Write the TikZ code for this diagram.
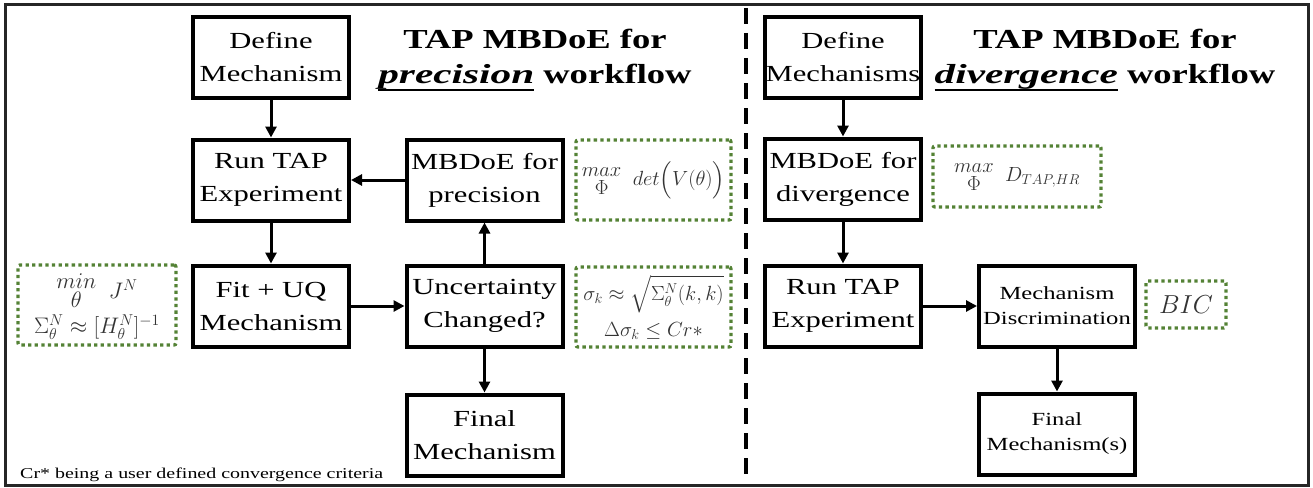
\documentclass[tikz,border=0pt]{standalone}
\usepackage{fix-cm}
\usepackage{amsmath}
\usepackage[no-math]{fontspec}
\setmainfont{Liberation Serif}[FakeStretch=1.33]
\newfontfamily\titleital{Liberation Serif}[FakeStretch=1.5]
\usetikzlibrary{arrows.meta}
\definecolor{dgreen}{RGB}{84,130,53}
\newcommand\boxfont{\fontsize{23}{33}\selectfont}
\newcommand\smallboxfont{\fontsize{18.5}{25}\selectfont}
\newcommand\mathfont{\fontsize{20.5}{25}\selectfont}
\newcommand\titlefont{\fontsize{27.5}{35}\selectfont\bfseries}
\newcommand\stk[2]{\begin{array}{@{}c@{}}#1\\[-7pt]#2\end{array}}
\newcommand\thickul[1]{\setbox0\hbox{#1}\rlap{\rule[-8pt]{\wd0}{1.8pt}}\box0\relax}
\tikzset{
  box/.style={draw, line width=4pt, minimum width=156pt, minimum height=81pt, align=center, font=\boxfont, inner sep=1pt},
  note/.style={draw=dgreen, line width=3.3pt, dash pattern=on 3.3pt off 3.3pt, rounded corners=2pt, minimum width=155pt, minimum height=80pt, align=center, text=black!80, font=\mathfont, inner sep=1pt},
  arr/.style={line width=3pt, -{Triangle[length=11pt,width=11pt]}},
  title/.style={align=center, font=\titlefont, inner sep=0pt}
}
\begin{document}
\begin{tikzpicture}[x=1pt,y=-1pt]
\useasboundingbox (0,0) rectangle (1313,487);
\draw[line width=3pt, black!85] (5,5) rectangle (1308,485);
\coordinate (dtop) at (746,8);
\coordinate (dbot) at (746,482);
\draw[line width=3.5pt, dash pattern=on 16pt off 9pt] (dtop) -- (dbot);

% left workflow
\node[box] (defA) at (271,57.5) {Define\\Mechanism};
\node[box] (runA) at (271,180) {Run TAP\\Experiment};
\node[box] (mbA) at (484.5,180) {MBDoE for\\precision};
\node[box] (fitA) at (271,306) {Fit + UQ\\Mechanism};
\node[box] (uncA) at (484.5,306) {Uncertainty\\Changed?};
\node[box] (finA) at (484.5,435) {Final\\Mechanism};
\node[note] (nMbA) at (653.5,180) {$\stk{max}{\Phi}\;\; det\Big(V(\theta)\Big)$};
\node[note, minimum width=158pt, font=\fontsize{22.5}{26}\selectfont] (nFitA) at (97,305) {$\stk{min}{\theta}\;\; J^N$\\[-2pt]$\Sigma_\theta^N \approx [H_\theta^N]^{-1}$};
\node[note] (nUncA) at (653.5,307) {$\sigma_k \approx \sqrt{\Sigma_\theta^N(k,k)}$\\[8pt]$\Delta\sigma_k \le Cr*$};
\node[title] (tA) at (535,60) {TAP MBDoE for\\\thickul{\titleital\bfseries\itshape precision} workflow};

\draw[arr] (defA) -- (runA);
\draw[arr] (mbA) -- (runA);
\draw[arr] (runA) -- (fitA);
\draw[arr] (fitA) -- (uncA);
\draw[arr] (uncA) -- (mbA);
\draw[arr] (uncA) -- (finA);

% right workflow
\node[box] (defB) at (843,57.5) {Define\\Mechanisms};
\node[box] (mbB) at (843,179) {MBDoE for\\divergence};
\node[box] (runB) at (843,306) {Run TAP\\Experiment};
\node[box, font=\smallboxfont] (discB) at (1057,306) {Mechanism\\Discrimination};
\node[box, font=\smallboxfont] (finB) at (1057,434) {Final\\Mechanism(s)};
\node[note, minimum width=168pt, minimum height=61pt] (nMbB) at (1017,176.5) {$\stk{max}{\Phi}\;\; D_{TAP,HR}$};
\node[note, minimum width=80pt, minimum height=47pt, font=\fontsize{26}{30}\selectfont] (nBic) at (1186,304.5) {$BIC$};
\node[title] (tB) at (1105,60) {TAP MBDoE for\\\thickul{\titleital\bfseries\itshape divergence} workflow};

\draw[arr] (defB) -- (mbB);
\draw[arr] (mbB) -- (runB);
\draw[arr] (runB) -- (discB);
\draw[arr] (discB) -- (finB);

\node[anchor=base west, font=\fontsize{15}{18}\selectfont, inner sep=0pt] (note) at (20,478) {Cr* being a user defined convergence criteria};
\end{tikzpicture}
\end{document}
